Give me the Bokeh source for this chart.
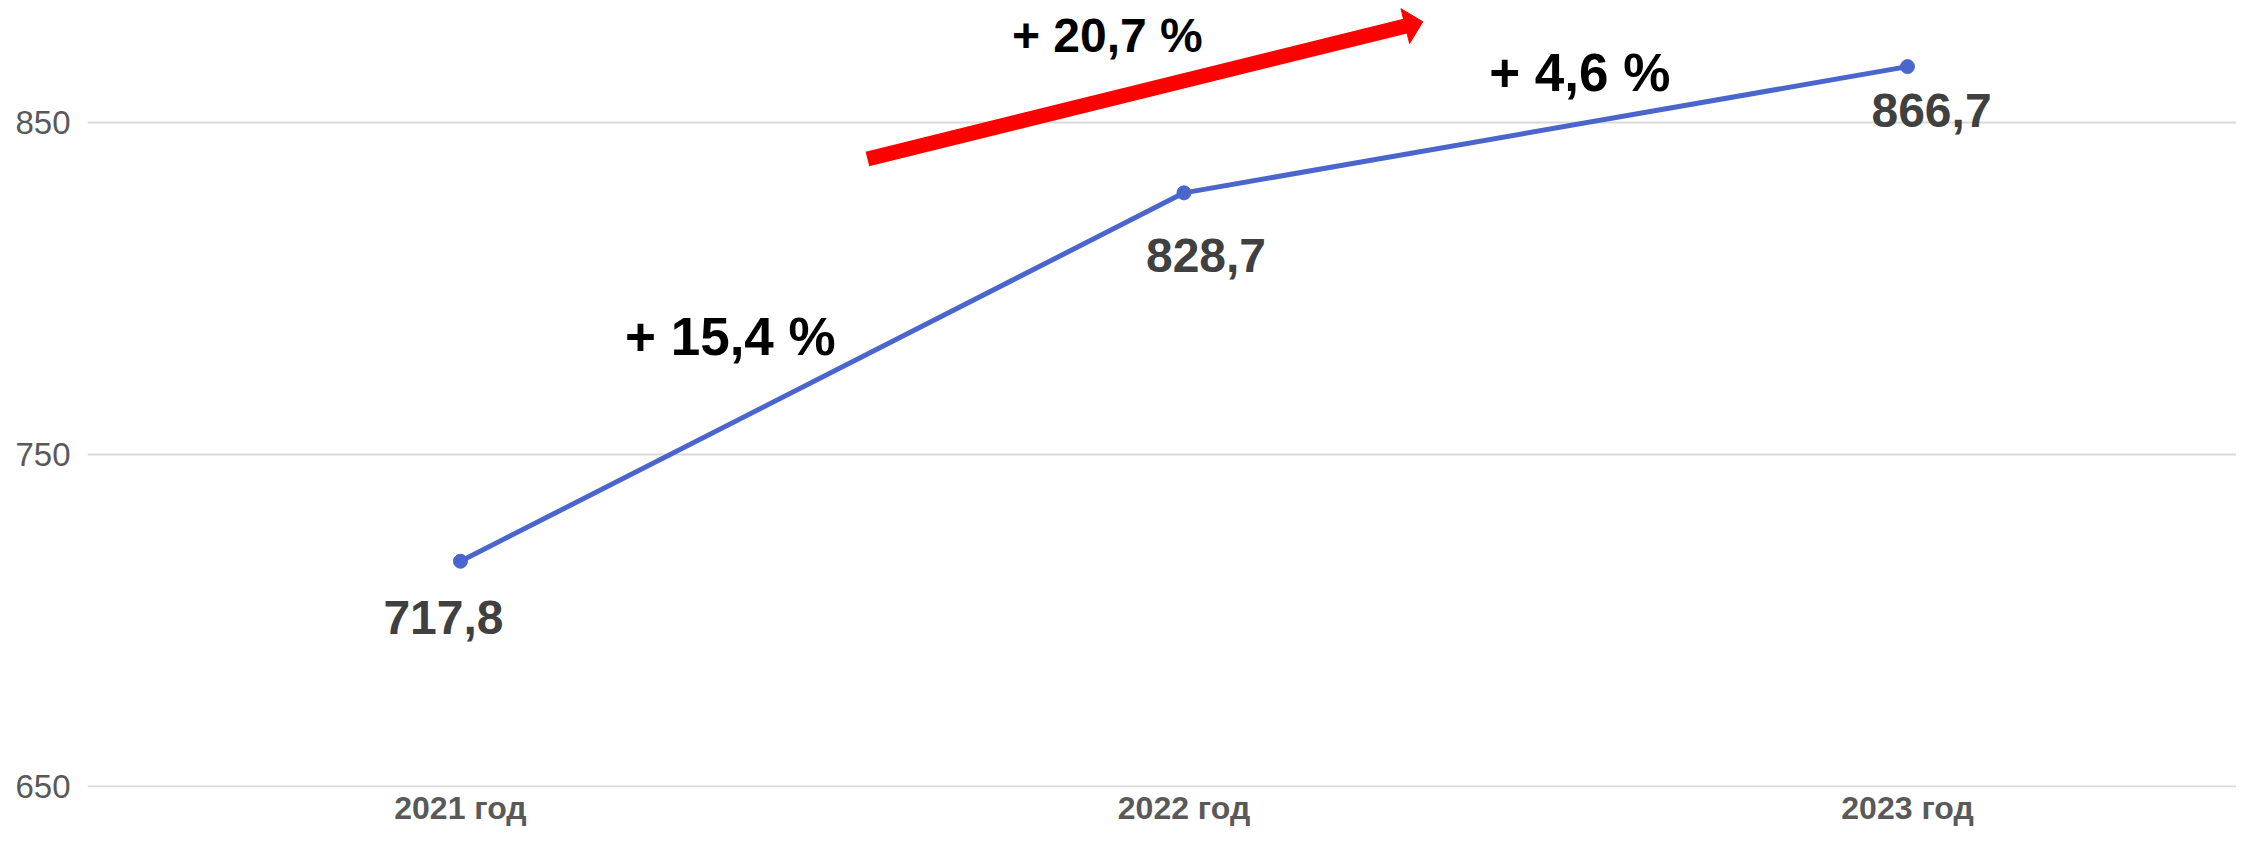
import math
from bokeh.plotting import figure
from bokeh.models import (ColumnDataSource, Range1d, FixedTicker)
from bokeh.core.properties import value
from bokeh.embed import file_html
from bokeh.resources import INLINE

# ---- data ----
years = ["2021 год", "2022 год", "2023 год"]
values = [717.8, 828.7, 866.7]
value_labels = ["717,8", "828,7", "866,7"]
y_ticks = [650, 750, 850]
growth_labels = ["+ 15,4 %", "+ 4,6 %"]
total_growth_label = "+ 20,7 %"

xs = list(range(len(years)))

FONT = "Liberation Sans"
LINE_COLOR = "#4A66CC"

W, H = 2236, 828
BL, BB = 87, 39
X0, X1 = -0.5155, 2.4547
Y0, Y1 = 649.7, 886.6

p = figure(width=W, height=H, output_backend="svg", toolbar_location=None,
           x_range=Range1d(X0, X1), y_range=Range1d(Y0, Y1),
           min_border_left=BL, min_border_right=0, min_border_top=0, min_border_bottom=BB)
p.outline_line_color = None
p.background_fill_color = "white"
p.border_fill_color = "white"

# axes
p.yaxis.ticker = FixedTicker(ticks=y_ticks)
p.yaxis.axis_line_color = None
p.yaxis.major_tick_line_color = None
p.yaxis.minor_tick_line_color = None
p.yaxis.major_tick_out = 0
p.yaxis.major_tick_in = 0
p.yaxis.major_label_text_font = FONT
p.yaxis.major_label_text_font_size = "33px"
p.yaxis.major_label_text_color = "#595959"
p.yaxis.major_label_standoff = 17

p.xaxis.ticker = FixedTicker(ticks=xs)
p.xaxis.major_label_overrides = {i: y for i, y in zip(xs, years)}
p.xaxis.axis_line_color = None
p.xaxis.major_tick_line_color = None
p.xaxis.minor_tick_line_color = None
p.xaxis.major_tick_out = 0
p.xaxis.major_tick_in = 0
p.xaxis.major_label_text_font = FONT
p.xaxis.major_label_text_font_size = "32px"
p.xaxis.major_label_text_font_style = "bold"
p.xaxis.major_label_text_color = "#595959"
p.xaxis.major_label_standoff = 2

p.xgrid.grid_line_color = None
p.ygrid.grid_line_color = "#D9D9D9"
p.ygrid.grid_line_width = 2

# series
src = ColumnDataSource(dict(x=xs, y=values, lab=value_labels,
                            dx=[-17, 22, 24], dy=[56, 63, 44]))
p.line("x", "y", source=src, line_color=LINE_COLOR, line_width=5)
p.scatter("x", "y", source=src, size=14, fill_color=LINE_COLOR, line_color=LINE_COLOR)

# value labels (offsets in screen pixels; positive y_offset goes down)
p.text("x", "y", text="lab", source=src, x_offset="dx", y_offset="dy",
       text_font=value(FONT), text_font_size="48px", text_font_style="bold",
       text_color="#404040", text_align="center", text_baseline="middle")

# growth annotations between points
p.text(x=[0.373, 1.547], y=[785.4, 865.0], text=growth_labels,
       text_font=value(FONT), text_font_size="53px", text_font_style="bold",
       text_color="black", text_align="center", text_baseline="middle")
p.text(x=[0.894], y=[876.1], text=[total_growth_label],
       text_font=value(FONT), text_font_size="48px", text_font_style="bold",
       text_color="black", text_align="center", text_baseline="middle")

# red overall-growth arrow: shaft + short, wide head (built in screen pixels)
tail = (0.5625, 838.9)
tip = (1.330, 880.2)
kx = (W - BL) / (X1 - X0)      # px per x unit
ky = (H - BB) / (Y1 - Y0)      # px per y unit
dxp = (tip[0] - tail[0]) * kx
dyp = (tip[1] - tail[1]) * ky
L = math.hypot(dxp, dyp)
ux, uy = dxp / L, dyp / L
nx, ny = -uy, ux
head_len, head_half = 18, 18
bx, by = -ux * head_len, -uy * head_len
shaft_end = (tip[0] + (bx + ux * 2) / kx, tip[1] + (by + uy * 2) / ky)
p.line([tail[0], shaft_end[0]], [tail[1], shaft_end[1]],
       line_color="#FF0000", line_width=15, line_cap="butt")
hx = [tip[0], tip[0] + (bx + nx * head_half) / kx, tip[0] + (bx - nx * head_half) / kx]
hy = [tip[1], tip[1] + (by + ny * head_half) / ky, tip[1] + (by - ny * head_half) / ky]
p.patch(hx, hy, fill_color="#FF0000", line_color="#FF0000", line_width=1)

open("out.html", "w").write(file_html(p, INLINE))
